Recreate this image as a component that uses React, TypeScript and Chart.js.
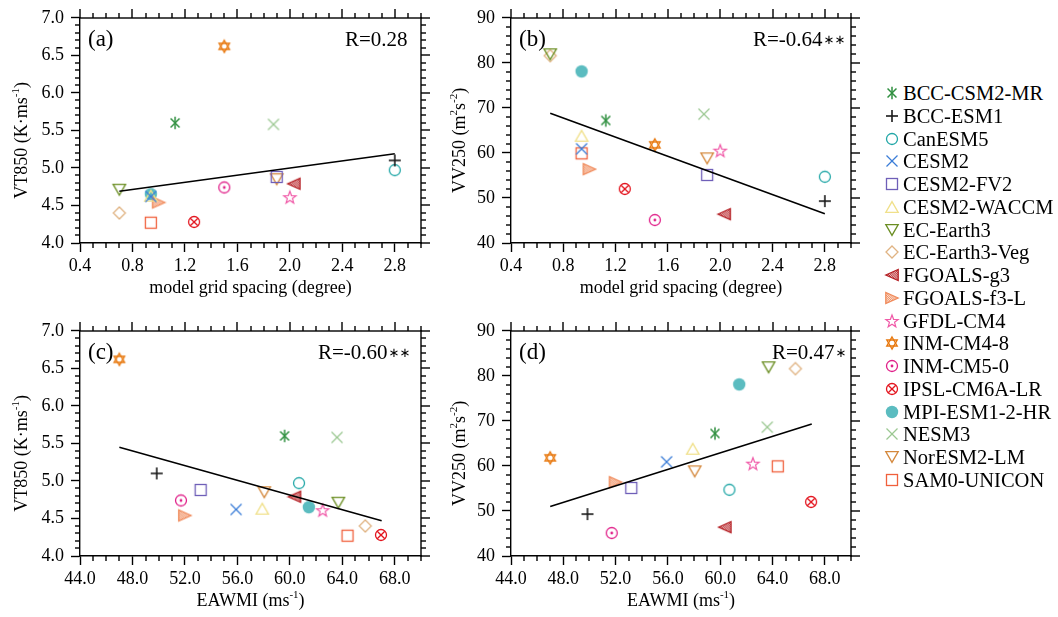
import React, { useEffect, useRef } from 'react';
import { Chart, registerables } from 'chart.js';
Chart.register(...registerables);

const SERIF = '"Liberation Serif", "Times New Roman", serif';

const models = [
  'BCC-CSM2-MR', 'BCC-ESM1', 'CanESM5', 'CESM2', 'CESM2-FV2', 'CESM2-WACCM',
  'EC-Earth3', 'EC-Earth3-Veg', 'FGOALS-g3', 'FGOALS-f3-L', 'GFDL-CM4', 'INM-CM4-8',
  'INM-CM5-0', 'IPSL-CM6A-LR', 'MPI-ESM1-2-HR', 'NESM3', 'NorESM2-LM', 'SAM0-UNICON',
];
const markerKinds = [
  'asterisk', 'plus', 'circle', 'cross', 'square', 'triUp',
  'triDown', 'diamond', 'triLeft', 'triRight', 'star5', 'hexagram',
  'circleDot', 'circleX', 'dot', 'cross', 'triDown', 'square',
];
const markerColors = [
  '#2f8f3f', '#1a1a1a', '#22a7a7', '#3b7dd8', '#6f5fb8', '#f0e08a',
  '#6b8e23', '#e0b383', '#b52025', '#f08a5a', '#f05aa8', '#e8780e',
  '#e0218a', '#e3141e', '#5bbcc0', '#9cc893', '#d4883c', '#f0603c',
];

// model grid spacing (degree)
const gridSpacing = [1.125, 2.8, 2.8, 0.94, 1.9, 0.94, 0.7, 0.7, 2.03, 1.0, 2.0, 1.5, 1.5, 1.27, 0.94, 1.875, 1.9, 0.94];
// EAWMI (m/s)
const eawmi = [59.6, 49.85, 60.7, 55.9, 53.2, 57.9, 63.7, 65.75, 60.35, 52.0, 62.5, 47.0, 51.7, 66.95, 61.45, 63.6, 58.05, 64.4];
// VT850 (K m/s)
const vt850 = [5.6, 5.1, 4.97, 4.62, 4.88, 4.63, 4.71, 4.40, 4.79, 4.54, 4.61, 6.62, 4.74, 4.28, 4.65, 5.58, 4.85, 4.27];
// VV250 (m2/s2)
const vv250 = [67.2, 49.3, 54.7, 60.9, 55.1, 63.8, 81.9, 81.6, 46.4, 56.4, 60.5, 61.8, 45.1, 52.0, 78.1, 68.6, 58.8, 59.9];

// regression line end points
const fitAx = [0.7, 2.8];
const fitAy = [4.69, 5.19];
const fitBx = [0.7, 2.8];
const fitBy = [68.8, 46.5];
const fitCx = [47, 67];
const fitCy = [5.45, 4.47];
const fitDx = [47, 67];
const fitDy = [51.0, 69.3];

const gridAxis = { min: 0.4, max: 3.0, step: 0.4, minor: 0.1, dec: 1 };
const eawmiAxis = { min: 44, max: 70, step: 4, minor: 1, dec: 1 };
const vt850Axis = { min: 4, max: 7, step: 0.5, minor: 0.1, dec: 1 };
const vv250Axis = { min: 40, max: 90, step: 10, minor: 2, dec: 0 };

const gridTitle = [{ t: 'model grid spacing (degree)' }];
const eawmiTitle = [{ t: 'EAWMI (ms' }, { t: '-1', sup: true }, { t: ')' }];
const vt850Title = [{ t: 'VT850 (K\u00b7ms' }, { t: '-1', sup: true }, { t: ')' }];
const vv250Title = [{ t: 'VV250 (m' }, { t: '2', sup: true }, { t: 's' }, { t: '-2', sup: true }, { t: ')' }];

function drawMarker(ctx: CanvasRenderingContext2D, kind: string, color: string, cx: number, cy: number) {
  ctx.save();
  ctx.translate(cx, cy);
  ctx.strokeStyle = color;
  ctx.fillStyle = color;
  ctx.lineWidth = 1.3;
  const line = (x1: number, y1: number, x2: number, y2: number) => {
    ctx.beginPath(); ctx.moveTo(x1, y1); ctx.lineTo(x2, y2); ctx.stroke();
  };
  const poly = (pts: number[][]) => {
    ctx.beginPath();
    pts.forEach(([x, y], i) => (i ? ctx.lineTo(x, y) : ctx.moveTo(x, y)));
    ctx.closePath();
  };
  switch (kind) {
    case 'asterisk': {
      const r = 6.3;
      ctx.lineWidth = 1.5;
      for (const a of [Math.PI / 2, Math.PI / 4, -Math.PI / 4]) line(-r * Math.cos(a), -r * Math.sin(a), r * Math.cos(a), r * Math.sin(a));
      break;
    }
    case 'plus':
      ctx.lineWidth = 1.6; line(-6, 0, 6, 0); line(0, -6, 0, 6); break;
    case 'circle':
      ctx.beginPath(); ctx.arc(0, 0, 5.5, 0, 2 * Math.PI); ctx.stroke(); break;
    case 'cross':
      line(-5.5, -5.5, 5.5, 5.5); line(-5.5, 5.5, 5.5, -5.5); break;
    case 'square':
      ctx.strokeRect(-5.5, -5.5, 11, 11); break;
    case 'triUp':
      poly([[0, -5.4], [6.2, 5.4], [-6.2, 5.4]]); ctx.stroke(); break;
    case 'triDown':
      poly([[0, 5.4], [6.2, -5.4], [-6.2, -5.4]]); ctx.stroke(); break;
    case 'diamond':
      poly([[0, -6], [6, 0], [0, 6], [-6, 0]]); ctx.stroke(); break;
    case 'triLeft':
    case 'triRight': {
      const s = kind === 'triLeft' ? 1 : -1;
      const pts = [[-6.2 * s, 0], [6.2 * s, -5.6], [6.2 * s, 5.6]];
      ctx.save(); poly(pts); ctx.clip();
      ctx.globalAlpha = 0.3; ctx.fill(); ctx.globalAlpha = 1;
      ctx.lineWidth = 0.9;
      for (let d = -14; d <= 14; d += 2.2) line(d - 7, -7, d + 7, 7);
      ctx.restore();
      poly(pts); ctx.stroke();
      break;
    }
    case 'star5': {
      const pts: number[][] = [];
      for (let i = 0; i < 10; i++) {
        const r = i % 2 === 0 ? 6.5 : 2.7;
        const a = -Math.PI / 2 + (i * Math.PI) / 5;
        pts.push([r * Math.cos(a), r * Math.sin(a) + 0.5]);
      }
      ctx.lineWidth = 1.2; poly(pts); ctx.stroke();
      break;
    }
    case 'hexagram': {
      ctx.lineWidth = 1.4;
      const t = (start: number) => {
        const pts: number[][] = [];
        for (let i = 0; i < 3; i++) {
          const a = start + (i * 2 * Math.PI) / 3;
          pts.push([6 * Math.cos(a), 6 * Math.sin(a)]);
        }
        poly(pts); ctx.stroke();
      };
      t(-Math.PI / 2); t(Math.PI / 2);
      break;
    }
    case 'circleDot':
      ctx.beginPath(); ctx.arc(0, 0, 5.5, 0, 2 * Math.PI); ctx.stroke();
      ctx.beginPath(); ctx.arc(0, 0, 1.4, 0, 2 * Math.PI); ctx.fill(); break;
    case 'circleX':
      ctx.beginPath(); ctx.arc(0, 0, 5.5, 0, 2 * Math.PI); ctx.stroke();
      line(-3.8, -3.8, 3.8, 3.8); line(-3.8, 3.8, 3.8, -3.8); break;
    case 'dot':
      ctx.beginPath(); ctx.arc(0, 0, 6.2, 0, 2 * Math.PI); ctx.fill(); break;
  }
  ctx.restore();
}

let markerCache: HTMLCanvasElement[] | null = null;
function getMarkers(): HTMLCanvasElement[] {
  if (markerCache) return markerCache;
  markerCache = markerKinds.map((k, i) => {
    const c = document.createElement('canvas');
    c.width = 16; c.height = 16;
    drawMarker(c.getContext('2d')!, k, markerColors[i], 8, 8);
    return c;
  });
  return markerCache;
}

type Part = { t: string; sup?: boolean };
function drawRich(ctx: CanvasRenderingContext2D, parts: Part[], size: number) {
  const main = `${size}px ${SERIF}`;
  const small = `${Math.round(size * 0.62)}px ${SERIF}`;
  let total = 0;
  for (const p of parts) { ctx.font = p.sup ? small : main; total += ctx.measureText(p.t).width; }
  let x = -total / 2;
  ctx.textBaseline = 'alphabetic';
  ctx.textAlign = 'left';
  for (const p of parts) {
    ctx.font = p.sup ? small : main;
    ctx.fillText(p.t, x, p.sup ? -size * 0.42 : 0);
    x += ctx.measureText(p.t).width;
  }
}

type AxisCfg = { min: number; max: number; step: number; minor: number; dec: number };
type PanelProps = {
  left: number; top: number; xs: number[]; ys: number[];
  xAxis: AxisCfg; yAxis: AxisCfg; xTitle: Part[]; yTitle: Part[];
  yWidth: number; yTitleGap: number; tag: string; rMain: string; rStar: string; rOffset: number;
  fitX: number[]; fitY: number[];
};

function Panel(p: PanelProps) {
  const ref = useRef<HTMLCanvasElement>(null);
  useEffect(() => {
    const markers = getMarkers();
    const datasets: any[] = models.map((m, i) => ({
      label: m,
      data: [{ x: p.xs[i], y: p.ys[i] }],
      pointStyle: markers[i],
      pointRadius: 6,
      order: 1,
    }));
    datasets.push({
      label: 'fit',
      data: p.fitX.map((x, i) => ({ x, y: p.fitY[i] })),
      showLine: true,
      borderColor: '#000',
      borderWidth: 1.6,
      pointRadius: 0,
      order: 0,
    });
    const frame = {
      id: 'frame',
      afterDraw(chart: any) {
        const ctx: CanvasRenderingContext2D = chart.ctx;
        const a = chart.chartArea;
        const xs = chart.scales.x;
        const ys = chart.scales.y;
        const L = Math.round(a.left), R = Math.round(a.right), T = Math.round(a.top), B = Math.round(a.bottom);
        ctx.save();
        ctx.fillStyle = '#000000';
        const tw = 1.4;
        // frame (top and right sides; left/bottom come from the axes' borders)
        ctx.fillRect(L - 0.7, T - 0.7, R - L + 1.4, 1.4);
        ctx.fillRect(R - 0.7, T - 0.7, 1.4, B - T + 1.4);
        const xa = p.xAxis;
        const nx = Math.round((xa.max - xa.min) / xa.minor);
        const ex = Math.round(xa.step / xa.minor);
        for (let k = 0; k <= nx; k++) {
          const px = Math.round(xs.getPixelForValue(xa.min + k * xa.minor));
          const major = k % ex === 0;
          const len = major ? 9 : 5;
          if (!major) ctx.fillRect(px - tw / 2, B, tw, len);
          ctx.fillRect(px - tw / 2, T - len, tw, len);
        }
        const ya = p.yAxis;
        const ny = Math.round((ya.max - ya.min) / ya.minor);
        const ey = Math.round(ya.step / ya.minor);
        for (let k = 0; k <= ny; k++) {
          const py = Math.round(ys.getPixelForValue(ya.min + k * ya.minor));
          const major = k % ey === 0;
          const len = major ? 9 : 5;
          if (!major) ctx.fillRect(L - len, py - tw / 2, len, tw);
          ctx.fillRect(R, py - tw / 2, len, tw);
        }
        // x title
        ctx.save();
        ctx.translate((a.left + a.right) / 2, a.bottom + 50);
        drawRich(ctx, p.xTitle, 18);
        ctx.restore();
        // y title
        ctx.save();
        ctx.translate(a.left - p.yTitleGap, (a.top + a.bottom) / 2 + 10);
        ctx.rotate(-Math.PI / 2);
        drawRich(ctx, p.yTitle, 18);
        ctx.restore();
        // panel tag
        ctx.font = `23px ${SERIF}`;
        ctx.textAlign = 'left';
        ctx.textBaseline = 'middle';
        ctx.fillText(p.tag, a.left + 8, a.top + 22);
        // R text
        ctx.font = `21px ${SERIF}`;
        const rx = a.left + p.rOffset;
        ctx.fillText(p.rMain, rx, a.top + 23);
        if (p.rStar) {
          const w = ctx.measureText(p.rMain).width;
          ctx.font = `13px "DejaVu Sans", sans-serif`;
          ctx.fillText(p.rStar, rx + w + 1, a.top + 23);
        }
        ctx.restore();
      },
    };
    const tickFont = { family: SERIF, size: 18 };
    const chart = new Chart(ref.current!, {
      type: 'scatter',
      data: { datasets },
      options: {
        animation: false,
        responsive: false,
        devicePixelRatio: 1,
        layout: { padding: { top: 15, right: 9, left: 0, bottom: 0 } },
        plugins: { legend: { display: false }, tooltip: { enabled: false } },
        scales: {
          x: {
            type: 'linear', position: 'bottom', min: p.xAxis.min, max: p.xAxis.max,
            afterFit: (s: any) => { s.height = 57; },
            ticks: {
              stepSize: p.xAxis.step, includeBounds: false, autoSkip: false, maxRotation: 0,
              padding: 3, color: '#000', font: tickFont,
              callback: (v: any) => Number(v).toFixed(p.xAxis.dec),
            },
            grid: { drawOnChartArea: false, drawTicks: true, tickLength: 9, tickColor: '#000', tickWidth: 1.4 },
            border: { display: true, color: '#000', width: 1.4 },
          },
          y: {
            type: 'linear', position: 'left', min: p.yAxis.min, max: p.yAxis.max,
            afterFit: (s: any) => { s.width = p.yWidth; },
            ticks: {
              stepSize: p.yAxis.step, includeBounds: false, autoSkip: false,
              padding: 7, color: '#000', font: tickFont,
              callback: (v: any) => Number(v).toFixed(p.yAxis.dec),
            },
            grid: { drawOnChartArea: false, drawTicks: true, tickLength: 9, tickColor: '#000', tickWidth: 1.4 },
            border: { display: true, color: '#000', width: 1.4 },
          },
        },
      } as any,
      plugins: [frame],
    });
    return () => chart.destroy();
  }, []);
  return (
    <canvas
      ref={ref}
      width={430}
      height={300}
      style={{ position: 'absolute', left: p.left, top: p.top, width: 430, height: 300 }}
    />
  );
}

function Legend() {
  const refs = useRef<(HTMLCanvasElement | null)[]>([]);
  useEffect(() => {
    refs.current.forEach((c, i) => {
      if (!c) return;
      const ctx = c.getContext('2d')!;
      ctx.clearRect(0, 0, 16, 16);
      drawMarker(ctx, markerKinds[i], markerColors[i], 8, 8);
    });
  }, []);
  return (
    <div style={{ position: 'absolute', left: 884, top: 82 }}>
      {models.map((m, i) => (
        <div
          key={m}
          style={{
            position: 'absolute', left: 0, top: i * 22.76, height: 22, whiteSpace: 'nowrap',
            display: 'flex', alignItems: 'center',
          }}
        >
          <canvas ref={(el) => { refs.current[i] = el; }} width={16} height={16} style={{ width: 16, height: 16 }} />
          <span style={{ fontFamily: SERIF, fontSize: 20.5, lineHeight: '22px', marginLeft: 3, color: '#000' }}>{m}</span>
        </div>
      ))}
    </div>
  );
}

export default function App() {
  return (
    <div style={{ position: 'absolute', left: 0, top: 0, width: 1058, height: 617, background: '#fff', overflow: 'hidden' }}>
      <Panel left={0} top={0} xs={gridSpacing} ys={vt850} xAxis={gridAxis} yAxis={vt850Axis}
        xTitle={gridTitle} yTitle={vt850Title} yWidth={80} yTitleGap={53} tag="(a)"
        rMain="R=0.28" rStar="" rOffset={265} fitX={fitAx} fitY={fitAy} />
      <Panel left={430} top={0} xs={gridSpacing} ys={vv250} xAxis={gridAxis} yAxis={vv250Axis}
        xTitle={gridTitle} yTitle={vv250Title} yWidth={81} yTitleGap={46} tag="(b)"
        rMain="R=-0.64" rStar={'\u2217\u2217'} rOffset={242} fitX={fitBx} fitY={fitBy} />
      <Panel left={0} top={313} xs={eawmi} ys={vt850} xAxis={eawmiAxis} yAxis={vt850Axis}
        xTitle={eawmiTitle} yTitle={vt850Title} yWidth={80} yTitleGap={53} tag="(c)"
        rMain="R=-0.60" rStar={'\u2217\u2217'} rOffset={238} fitX={fitCx} fitY={fitCy} />
      <Panel left={430} top={313} xs={eawmi} ys={vv250} xAxis={eawmiAxis} yAxis={vv250Axis}
        xTitle={eawmiTitle} yTitle={vv250Title} yWidth={81} yTitleGap={46} tag="(d)"
        rMain="R=0.47" rStar={'\u2217'} rOffset={261} fitX={fitDx} fitY={fitDy} />
      <Legend />
    </div>
  );
}
